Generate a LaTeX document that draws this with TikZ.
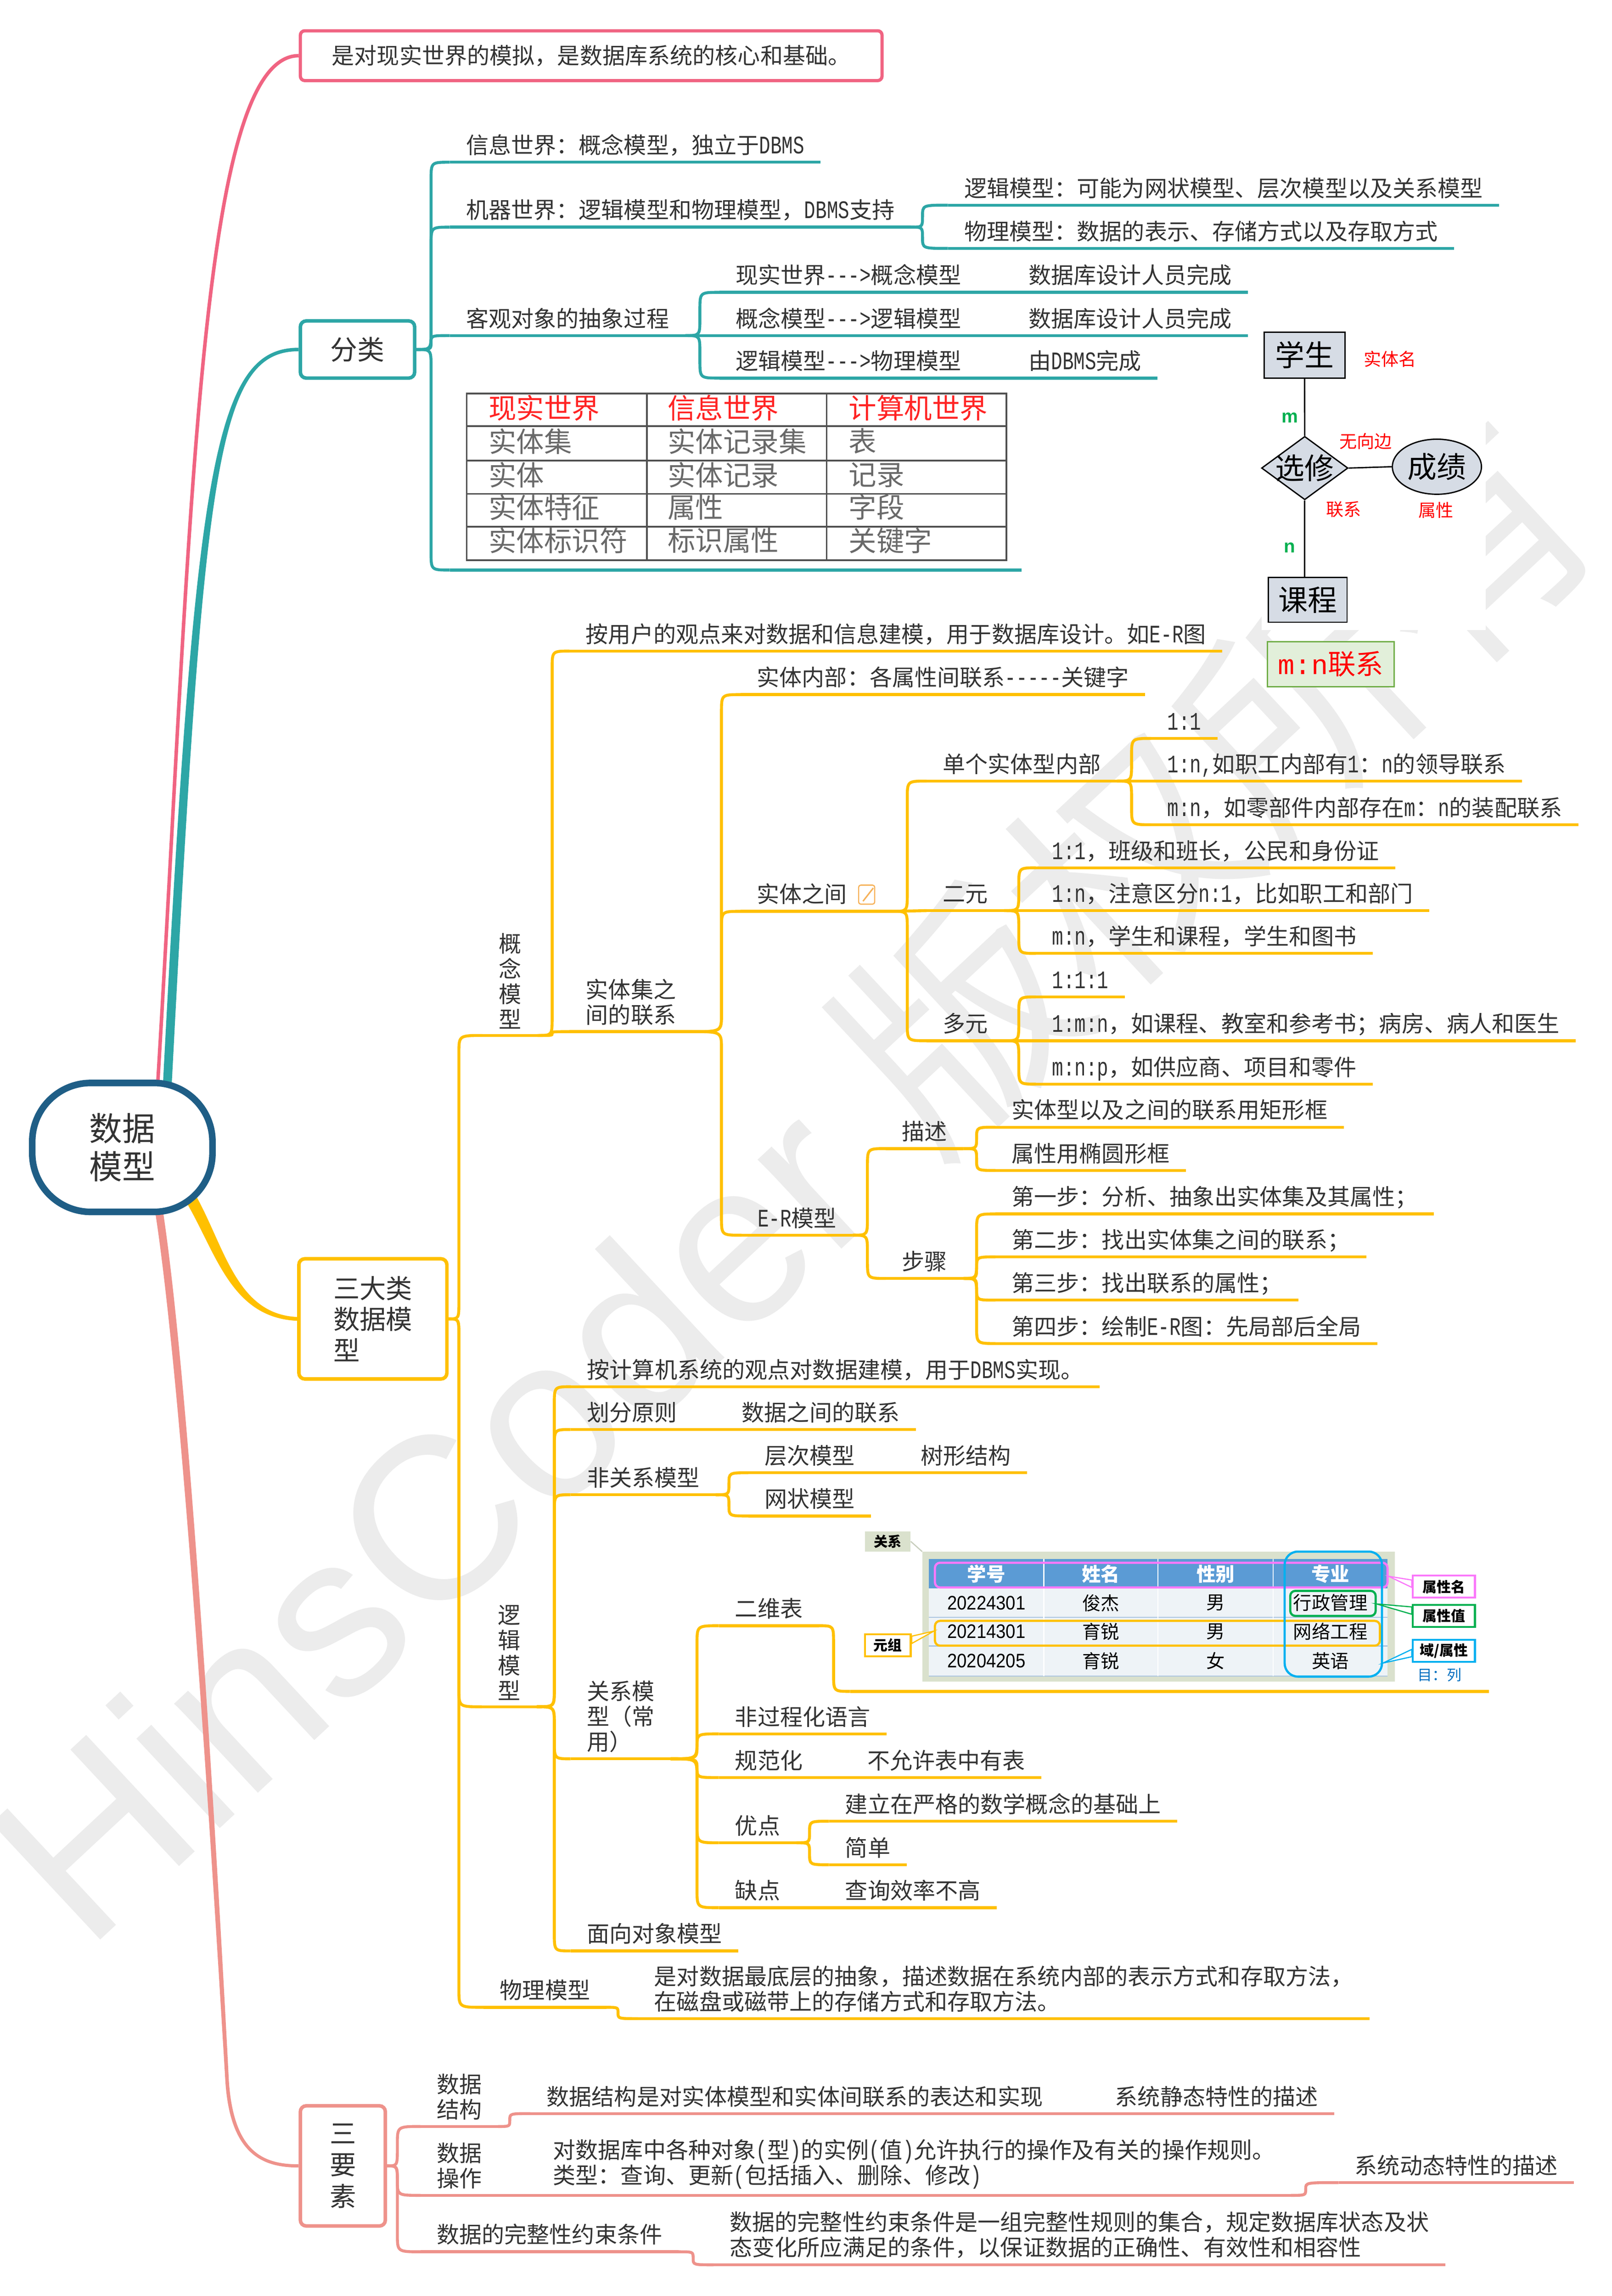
\documentclass[tikz,border=0pt]{standalone}
\usepackage{fontspec}
\setmainfont{Noto Sans CJK SC}
\newfontfamily\hwf[Scale=1.12,FakeStretch=0.744]{Liberation Mono}
\newfontfamily\latf{Liberation Sans}
\newfontfamily\numf[FakeStretch=0.9]{Liberation Sans}
\newfontfamily\monof{Liberation Mono}
\usetikzlibrary{calc,shapes.geometric}
\pgfdeclarelayer{wmk}
\pgfdeclarelayer{bg}
\pgfsetlayers{wmk,bg,main}
\newcommand\hw[1]{{\hwf #1}}
\newcommand\tfs{\fontsize{43.8}{49.2}\selectfont}
\newcommand\arrw{\hw{-\kern0pt-\kern0pt-\kern0pt>}}
\definecolor{pk}{RGB}{240,100,130}
\definecolor{tl}{RGB}{45,166,166}
\definecolor{yl}{RGB}{255,192,0}
\definecolor{sm}{RGB}{238,146,139}
\definecolor{rt}{RGB}{31,94,134}
\definecolor{tx}{RGB}{51,51,51}
\definecolor{erf}{RGB}{214,220,229}
\definecolor{gf}{RGB}{226,239,218}
\definecolor{gb}{RGB}{112,173,71}
\definecolor{sg}{RGB}{218,225,205}
\definecolor{hdc}{RGB}{91,155,213}
\definecolor{rfc}{RGB}{238,243,247}
\definecolor{rlc}{RGB}{170,196,224}
\definecolor{mgc}{RGB}{250,120,250}
\definecolor{gnc}{RGB}{0,176,80}
\definecolor{cyc}{RGB}{0,176,240}
\definecolor{blc}{RGB}{0,112,192}
\definecolor{wmc}{RGB}{236,236,236}
\definecolor{tgc}{RGB}{105,105,105}
\definecolor{trc}{RGB}{255,35,35}
\definecolor{glc}{RGB}{80,80,80}
\definecolor{icc}{RGB}{246,178,90}
\tikzset{
  tp/.style={font=\tfs, text=tx, anchor=south west, inner xsep=11mm, xshift=-11mm, align=left},
  br/.style={draw=#1, line width=2mm},
  elb/.style={to path={let \p1=(\tikztostart),\p2=(\tikztotarget) in
    .. controls ({\x1+#1},\y1) .. ({\x1+#1},{\y1+ifthenelse(\y2>\y1,1,-1)*min(12mm,abs(\y2-\y1)/2)})
    -- ({\x1+#1},{\y2-ifthenelse(\y2>\y1,1,-1)*min(12mm,abs(\y2-\y1)/2)})
    .. controls ({\x1+#1},\y2) .. (\p2)}},
  elb/.default=9mm,
  lvl/.style={draw=#1, line width=2.4mm, rounded corners=4mm, fill=white, text=tx, inner sep=0},
  tc/.style={anchor=west, inner sep=0, font=\fontsize{54}{60}\selectfont, text=tgc},
  erbox/.style={draw=black, line width=0.9mm, fill=erf, inner sep=0, font=\fontsize{57}{60}\selectfont},
  ert/.style={inner sep=0, font=\fontsize{57}{60}\selectfont},
  redl/.style={inner sep=0, text=red, font=\fontsize{34}{36}\selectfont},
  grl/.style={inner sep=0, text=gnc, font=\latf\bfseries\fontsize{36}{38}\selectfont},
  hdt/.style={inner sep=0, text=white, font=\bfseries\fontsize{37}{40}\selectfont},
  dtc/.style={inner sep=0, text=black, font=\fontsize{36}{40}\selectfont},
  dtn/.style={inner sep=0, text=black, font=\numf\fontsize{38}{40}\selectfont},
  lab/.style={draw=#1, fill=white, line width=1.4mm, inner sep=0, minimum width=42.5mm, minimum height=15mm, font=\bfseries\fontsize{27.5}{30}\selectfont},
  hil/.style={draw=#1, line width=1.5mm, rounded corners=3.5mm, inner sep=0},
}
\newcommand\tpc[5][]{\node[tp,text depth=0pt,inner ysep=5.8mm,#1] (#2) at #4 {#5};\draw[br=#3] (#2.south west) -- (#2.south east);}
\newcommand\tpm[5][]{\node[tp,inner ysep=4.3mm,#1] (#2) at #4 {#5};\draw[br=#3] (#2.south west) -- (#2.south east);}
\begin{document}
\begin{tikzpicture}[x=1mm,y=-1mm]
\useasboundingbox (0,0) rectangle (1100,1566.8);
\begin{pgfonlayer}{wmk}
\node[rotate=43,inner sep=0,text=wmc,font=\fontsize{449.5}{450}\selectfont] (wmark) at (538.4,803.9) {{\latf HinsCoder\ }版权所有};
\end{pgfonlayer}

% ---------- root and level-1 ----------
\node[draw=rt,line width=4.5mm,fill=white,rounded corners=40mm,minimum width=123mm,minimum height=88mm,align=center,text=tx,inner sep=0,font=\fontsize{64}{74}\selectfont] (root) at (83.5,783) {数据\\模型};
\node[lvl=pk,line width=2.2mm,rounded corners=3mm,minimum width=397mm,minimum height=34mm,font=\tfs] (pb) at (403.5,38) {是对现实世界的模拟，是数据库系统的核心和基础。};
\node[lvl=tl,minimum width=78mm,minimum height=39mm,font=\fontsize{52.6}{60}\selectfont] (fl) at (244,238.5) {分类};
\node[lvl=yl,minimum width=101mm,minimum height=82mm,align=left,font=\fontsize{51.2}{60.3}\selectfont] (sd) at (254.5,900) {三大类\\数据模\\型};
\node[lvl=sm,minimum width=58mm,minimum height=82mm,align=center,font=\fontsize{51.2}{60.9}\selectfont] (sy) at (234,1478) {三\\要\\素};

% ---------- teal ----------
\tpc{tA}{tl}{(318,110.7)}{信息世界：概念模型，独立于\hw{DBMS}}
\tpc{tB}{tl}{(318,155)}{机器世界：逻辑模型和物理模型，\hw{DBMS}支持}
\tpc{tBa}{tl}{(658,140)}{逻辑模型：可能为网状模型、层次模型以及关系模型}
\tpc{tBb}{tl}{(658,169.5)}{物理模型：数据的表示、存储方式以及存取方式}
\tpc{tC}{tl}{(318,229)}{客观对象的抽象过程}
\tpc{tCa}{tl}{(502,199.5)}{现实世界\arrw 概念模型}
\tpc{tCb}{tl}{(502,229)}{概念模型\arrw 逻辑模型}
\tpc{tCc}{tl}{(502,258)}{逻辑模型\arrw 物理模型}
\tpc{tCa2}{tl}{(702,199.5)}{数据库设计人员完成}
\tpc{tCb2}{tl}{(702,229)}{数据库设计人员完成}
\tpc{tCc2}{tl}{(702,258)}{由\hw{DBMS}完成}
\node[minimum width=390mm,minimum height=125mm,anchor=south west,inner sep=0] (tbl) at (307,389) {};
\draw[br=tl] (tbl.south west) -- (tbl.south east);
\begin{scope}[line width=1.2mm, draw=glc]
\draw (318.5,268.6) rectangle (686.8,382.2);
\foreach \yy in {290.9,314.2,337,359.3} \draw (318.5,\yy) -- (686.8,\yy);
\foreach \xx in {441.4,564.2} \draw (\xx,268.6) -- (\xx,382.2);
\end{scope}
\node[tc,text=trc] (c11) at (333.4,278.4) {现实世界};
\node[tc,text=trc] (c12) at (455.6,278.4) {信息世界};
\node[tc,text=trc] (c13) at (579.2,278.4) {计算机世界};
\node[tc] (c21) at (333.4,301.1) {实体集};
\node[tc] (c22) at (455.6,301.1) {实体记录集};
\node[tc] (c23) at (579.2,301.1) {表};
\node[tc] (c31) at (333.4,324) {实体};
\node[tc] (c32) at (455.6,324) {实体记录};
\node[tc] (c33) at (579.2,324) {记录};
\node[tc] (c41) at (333.4,346.2) {实体特征};
\node[tc] (c42) at (455.6,346.2) {属性};
\node[tc] (c43) at (579.2,346.2) {字段};
\node[tc] (c51) at (333.4,368.8) {实体标识符};
\node[tc] (c52) at (455.6,368.8) {标识属性};
\node[tc] (c53) at (579.2,368.8) {关键字};

% ---------- ER diagram ----------
\node[erbox,minimum width=55.2mm,minimum height=31.4mm] (xs) at (890.4,242.3) {学生};
\node[diamond,draw=black,line width=0.9mm,fill=erf,minimum width=59mm,minimum height=43.3mm,inner sep=0] (xx) at (890.5,319.4) {};
\node[ert] (xxt) at (xx.center) {选修};
\node[ellipse,draw=black,line width=0.9mm,fill=erf,minimum width=60.8mm,minimum height=37.6mm,inner sep=0] (cj) at (980.7,318.5) {};
\node[ert] (cjt) at (cj.center) {成绩};
\node[erbox,minimum width=53.7mm,minimum height=30.6mm] (kc) at (892.55,409.3) {课程};
\node[redl] (l1) at (948.7,245) {实体名};
\node[redl] (l2) at (932,301) {无向边};
\node[redl] (l3) at (917,347.5) {联系};
\node[redl] (l4) at (980,348) {属性};
\node[grl] (gm) at (880.5,285) {m};
\node[grl] (gnn) at (880.3,373.8) {n};
\node[draw=gb,fill=gf,line width=0.9mm,minimum width=86.5mm,minimum height=30.8mm,inner sep=0,text=red,font=\fontsize{54}{58}\selectfont] (mn) at (908.25,453.2) {{\monof m:n}联系};

% ---------- yellow: 概念模型 ----------
\tpm[align=center]{gnm}{yl}{(340.3,706.6)}{概\\念\\模\\型}
\tpc{yA}{yl}{(399.7,444.3)}{按用户的观点来对数据和信息建模，用于数据库设计。如\hw{E-R}图}
\tpm{yB}{yl}{(399.7,704)}{实体集之\\间的联系}
\tpc{yB1}{yl}{(516.5,474)}{实体内部：各属性间联系\hw{-\kern0pt-\kern0pt-\kern0pt-\kern0pt-}关键字}
\tpc{yB2}{yl}{(516.5,621.9)}{实体之间\kern20mm}
\draw[icc,line width=0.8mm,rounded corners=1.5mm,fill=white] (586,604) rectangle (597,617);
\draw[icc,line width=1mm] (589,615) -- (596,606);
\tpc{dg}{yl}{(643.4,533)}{单个实体型内部}
\tpc{dg1}{yl}{(796.7,503.9)}{\hw{1:1}}
\tpc{dg2}{yl}{(796.7,533)}{\hw{1:n,}如职工内部有\hw{1}：\hw{n}的领导联系}
\tpc{dg3}{yl}{(796.7,562.8)}{\hw{m:n}，如零部件内部存在\hw{m}：\hw{n}的装配联系}
\tpc{ey}{yl}{(643.4,621.4)}{二元}
\tpc{ey1}{yl}{(718,592.2)}{\hw{1:1}，班级和班长，公民和身份证}
\tpc{ey2}{yl}{(718,621.4)}{\hw{1:n}，注意区分\hw{n:1}，比如职工和部门}
\tpc{ey3}{yl}{(718,650.6)}{\hw{m:n}，学生和课程，学生和图书}
\tpc{dy}{yl}{(643.4,710.2)}{多元}
\tpc{dy1}{yl}{(718,680.3)}{\hw{1:1:1}}
\tpc{dy2}{yl}{(718,710.2)}{\hw{1:m:n}，如课程、教室和参考书；病房、病人和医生}
\tpc{dy3}{yl}{(718,739.8)}{\hw{m:n:p}，如供应商、项目和零件}
\tpc{erm}{yl}{(517,842.9)}{\hw{E-R}模型}
\tpc{ms}{yl}{(615.6,783.8)}{描述}
\tpc{ms1}{yl}{(690.4,769.2)}{实体型以及之间的联系用矩形框}
\tpc{ms2}{yl}{(690.4,798.7)}{属性用椭圆形框}
\tpc{bz}{yl}{(615.6,872.4)}{步骤}
\tpc{bz1}{yl}{(690.4,828.4)}{第一步：分析、抽象出实体集及其属性；}
\tpc{bz2}{yl}{(690.4,857.7)}{第二步：找出实体集之间的联系；}
\tpc{bz3}{yl}{(690.4,887.2)}{第三步：找出联系的属性；}
\tpc{bz4}{yl}{(690.4,916.8)}{第四步：绘制\hw{E-R}图：先局部后全局}

% ---------- yellow: 逻辑模型 ----------
\tpm[align=center]{lj}{yl}{(339.8,1164.7)}{逻\\辑\\模\\型}
\tpc{lA}{yl}{(400.6,946.3)}{按计算机系统的观点对数据建模，用于\hw{DBMS}实现。}
\tpc{lB}{yl}{(400.4,975.5)}{划分原则}
\tpc{lB2}{yl}{(506.2,975.5)}{数据之间的联系}
\tpc{lC}{yl}{(400.4,1020)}{非关系模型}
\tpc{lC1}{yl}{(521.7,1005)}{层次模型}
\tpc{lC1b}{yl}{(628.3,1005)}{树形结构}
\tpc{lC2}{yl}{(521.7,1034.5)}{网状模型}
\tpm{lD}{yl}{(400.4,1200.2)}{关系模\\型（常\\用）}
\tpc{lD1}{yl}{(501.6,1109.4)}{二维表}
\tpc{lD2}{yl}{(501.6,1183.2)}{非过程化语言}
\tpc{lD3}{yl}{(501.6,1213)}{规范化}
\tpc{lD3b}{yl}{(591.9,1213)}{不允许表中有表}
\tpc{lD4}{yl}{(501.6,1257.5)}{优点}
\tpc{lD4a}{yl}{(576.8,1242.8)}{建立在严格的数学概念的基础上}
\tpc{lD4b}{yl}{(576.8,1272.5)}{简单}
\tpc{lD5}{yl}{(501.6,1301.8)}{缺点}
\tpc{lD5b}{yl}{(576.8,1301.8)}{查询效率不高}
\tpc{lE}{yl}{(400.4,1331.3)}{面向对象模型}
\tpc{wl}{yl}{(341.1,1369.8)}{物理模型}
\tpm{wl1}{yl}{(446.4,1377.5)}{是对数据最底层的抽象，描述数据在系统内部的表示方式和存取方法，\\在磁盘或磁带上的存储方式和存取方法。}

% relation table image
\node[minimum width=435.8mm,minimum height=114mm,anchor=south west,inner sep=0] (rel) at (580.2,1154.2) {};
\draw[br=yl] (rel.south west) -- (rel.south east);
\node[fill=sg,minimum width=31.1mm,minimum height=13.9mm,inner sep=0,font=\bfseries\fontsize{27}{30}\selectfont] (gx) at (605.95,1051.85) {关系};
\node[fill=sg,minimum width=322.6mm,minimum height=88.7mm,inner sep=0,anchor=north west] (pnl) at (629.4,1058.8) {};
\draw[sg!80!gray,line width=0.8mm] (gx.east) -- (pnl.north west);
\fill[rfc] (634,1063.9) rectangle (947,1143.7);
\fill[hdc] (634,1063.9) rectangle (947,1084);
\foreach \yy in {1103.6,1123.2,1143.7} \draw[rlc,line width=0.8mm] (634,\yy) -- (947,\yy);
\foreach \xx in {712.4,790.4,869} \draw[white,line width=0.7mm] (\xx,1063.9) -- (\xx,1143.7);
\node[hdt] (h1) at (673.2,1074) {学号};
\node[hdt] (h2) at (751.4,1074) {姓名};
\node[hdt] (h3) at (829.7,1074) {性别};
\node[hdt] (h4) at (908,1074) {专业};
\node[dtn] (d11) at (673.2,1093.8) {20224301};
\node[dtc] (d12) at (751.4,1093.8) {俊杰};
\node[dtc] (d13) at (829.7,1093.8) {男};
\node[dtc] (d14) at (908,1093.8) {行政管理};
\node[dtn] (d21) at (673.2,1113.4) {20214301};
\node[dtc] (d22) at (751.4,1113.4) {育锐};
\node[dtc] (d23) at (829.7,1113.4) {男};
\node[dtc] (d24) at (908,1113.4) {网络工程};
\node[dtn] (d31) at (673.2,1133.5) {20204205};
\node[dtc] (d32) at (751.4,1133.5) {育锐};
\node[dtc] (d33) at (829.7,1133.5) {女};
\node[dtc] (d34) at (908,1133.5) {英语};
\node[hil=mgc,minimum width=308.9mm,minimum height=16.9mm] (hpk) at (792.55,1074.85) {};
\node[hil=gnc,minimum width=58.3mm,minimum height=17.1mm] (hgn) at (909.75,1094.15) {};
\node[hil=yl,minimum width=303.7mm,minimum height=16.9mm] (hor) at (789.95,1114.55) {};
\node[hil=cyc,rounded corners=9mm,minimum width=66.4mm,minimum height=85.3mm] (hcy) at (910,1101.45) {};
\node[lab=mgc] (lpk) at (985.45,1082.7) {属性名};
\node[lab=gnc] (lgn) at (985.45,1102.75) {属性值};
\node[lab=cyc] (lcy) at (985.45,1126.55) {域/属性};
\node[lab=yl,minimum width=31.1mm,minimum height=14.9mm] (lor) at (605.95,1122.75) {元组};
\filldraw[draw=mgc,fill=white,line width=0.8mm] ($(hpk.east)+(0,0.8)$) -- ($(lpk.west)+(0,-4.5)$) -- ($(lpk.west)+(0,0.5)$) -- cycle;
\filldraw[draw=gnc,fill=white,line width=0.8mm] ($(hgn.east)+(0,0.4)$) -- ($(lgn.west)+(0,-6.2)$) -- ($(lgn.west)+(0,-1.2)$) -- cycle;
\filldraw[draw=cyc,fill=white,line width=0.8mm] ($(hcy.south east)+(0,-10)$) -- ($(lcy.west)+(0,-1)$) -- ($(lcy.west)+(0,4)$) -- cycle;
\filldraw[draw=yl,fill=white,line width=0.8mm] ($(hor.west)+(0,-1.5)$) -- ($(lor.east)+(0,-6.2)$) -- ($(lor.east)+(0,-1.2)$) -- cycle;
\node[inner sep=0,text=blc,font=\fontsize{28.5}{30}\selectfont] (mlie) at (982.5,1142.9) {目：列};

% ---------- salmon ----------
\tpm{sA}{sm}{(298,1451.1)}{数据\\结构}
\tpc{sA1}{sm}{(373,1442.3)}{数据结构是对实体模型和实体间联系的表达和实现}
\tpc{sA2}{sm}{(761,1442.3)}{系统静态特性的描述}
\tpm{sB}{sm}{(298,1498.1)}{数据\\操作}
\tpm{sB1}{sm}{(377.4,1498.1)}{对数据库中各种对象\hw{(}型\hw{)}的实例\hw{(}值\hw{)}允许执行的操作及有关的操作规则。\\类型：查询、更新\hw{(}包括插入、删除、修改\hw{)}}
\tpc{sB2}{sm}{(924.6,1489.4)}{系统动态特性的描述}
\tpc{sC}{sm}{(298,1536.6)}{数据的完整性约束条件}
\tpm{sC1}{sm}{(498,1545.5)}{数据的完整性约束条件是一组完整性规则的集合，规定数据库状态及状\\态变化所应满足的条件，以保证数据的正确性、有效性和相容性}

% ---------- connectors ----------
\begin{pgfonlayer}{bg}
\fill[white] (861,226) rectangle (1014,430);
\draw[line width=0.9mm] (xs.south) -- (xx.north);
\draw[line width=0.9mm] (xx.east) -- (cj.west);
\draw[line width=0.9mm] (xx.south) -- (xx.south |- kc.north);
\draw[pk,line width=2.4mm] ($(root.center)+(24,-41)$) .. controls (131,350) and (136,38) .. (pb.west);
\fill[tl] ($(root.center)+(27.5,-39)$) .. controls (133,320) and (146,237.3) .. ($(fl.west)+(0,-1.2)$) -- ($(fl.west)+(0,1.2)$) .. controls (148,239.7) and (139,320) .. ($(root.center)+(33.5,-39)$) -- cycle;
\fill[yl] ($(root.center)+(47.9,28.9)$) .. controls (153,848) and (160,896.8) .. ($(sd.west)+(0,-1.3)$) -- ($(sd.west)+(0,1.3)$) .. controls (156,899.2) and (147,852) .. ($(root.center)+(41.1,33.1)$) -- cycle;
\fill[sm] ($(root.center)+(21.8,40)$) .. controls (125.5,950) and (146.5,1300) .. (153.8,1420) .. controls (157,1471) and (180,1479.1) .. ($(sy.west)+(0,1.1)$) -- ($(sy.west)+(0,-1.1)$) .. controls (180,1476.9) and (159.5,1469) .. (156.2,1420) .. controls (150,1300) and (130.5,950) .. ($(root.center)+(27.2,40)$) -- cycle;
% teal
\draw[br=tl] (fl.east) to[elb=10mm] (tA.south west);
\draw[br=tl] (fl.east) to[elb=10mm] (tB.south west);
\draw[br=tl] (fl.east) to[elb=10mm] (tC.south west);
\draw[br=tl] (fl.east) to[elb=10mm] (tbl.south west);
\draw[br=tl] (tB.south east) to[elb=8mm] (tBa.south west);
\draw[br=tl] (tB.south east) to[elb=8mm] (tBb.south west);
\draw[br=tl] (tC.south east) to[elb=10mm] (tCa.south west);
\draw[br=tl] (tC.south east) -- (tCb.south west);
\draw[br=tl] (tC.south east) to[elb=10mm] (tCc.south west);
\draw[br=tl] (tCa.south east) -- (tCa2.south west);
\draw[br=tl] (tCb.south east) -- (tCb2.south west);
\draw[br=tl] (tCc.south east) -- (tCc2.south west);
% yellow
\draw[br=yl] (sd.east) to[elb=7mm] (gnm.south west);
\draw[br=yl] (sd.east) to[elb=7mm] (lj.south west);
\draw[br=yl] (sd.east) to[elb=7mm] (wl.south west);
\draw[br=yl] (gnm.south east) to[elb=10mm] (yA.south west);
\draw[br=yl] (gnm.south east) to[elb=10mm] (yB.south west);
\draw[br=yl] (yB.south east) to[elb=20mm] (yB1.south west);
\draw[br=yl] (yB.south east) to[elb=20mm] (yB2.south west);
\draw[br=yl] (yB.south east) to[elb=20mm] (erm.south west);
\draw[br=yl] (yB2.south east) to[elb=10mm] (dg.south west);
\draw[br=yl] (yB2.south east) -- (ey.south west);
\draw[br=yl] (yB2.south east) to[elb=10mm] (dy.south west);
\draw[br=yl] (dg.south east) to[elb=10mm] (dg1.south west);
\draw[br=yl] (dg.south east) -- (dg2.south west);
\draw[br=yl] (dg.south east) to[elb=10mm] (dg3.south west);
\draw[br=yl] (ey.south east) to[elb=10mm] (ey1.south west);
\draw[br=yl] (ey.south east) -- (ey2.south west);
\draw[br=yl] (ey.south east) to[elb=10mm] (ey3.south west);
\draw[br=yl] (dy.south east) to[elb=10mm] (dy1.south west);
\draw[br=yl] (dy.south east) -- (dy2.south west);
\draw[br=yl] (dy.south east) to[elb=10mm] (dy3.south west);
\draw[br=yl] (erm.south east) to[elb=10mm] (ms.south west);
\draw[br=yl] (erm.south east) to[elb=10mm] (bz.south west);
\draw[br=yl] (ms.south east) to[elb=9mm] (ms1.south west);
\draw[br=yl] (ms.south east) to[elb=9mm] (ms2.south west);
\draw[br=yl] (bz.south east) to[elb=9mm] (bz1.south west);
\draw[br=yl] (bz.south east) to[elb=9mm] (bz2.south west);
\draw[br=yl] (bz.south east) to[elb=9mm] (bz3.south west);
\draw[br=yl] (bz.south east) to[elb=9mm] (bz4.south west);
\draw[br=yl] (lj.south east) to[elb=12mm] (lA.south west);
\draw[br=yl] (lj.south east) to[elb=12mm] (lB.south west);
\draw[br=yl] (lj.south east) to[elb=12mm] (lC.south west);
\draw[br=yl] (lj.south east) to[elb=12mm] (lD.south west);
\draw[br=yl] (lj.south east) to[elb=12mm] (lE.south west);
\draw[br=yl] (lB.south east) -- (lB2.south west);
\draw[br=yl] (lC.south east) to[elb=9mm] (lC1.south west);
\draw[br=yl] (lC.south east) to[elb=9mm] (lC2.south west);
\draw[br=yl] (lC1.south east) -- (lC1b.south west);
\draw[br=yl] (lD.south east) to[elb=18mm] (lD1.south west);
\draw[br=yl] (lD.south east) to[elb=18mm] (lD2.south west);
\draw[br=yl] (lD.south east) to[elb=18mm] (lD3.south west);
\draw[br=yl] (lD.south east) to[elb=18mm] (lD4.south west);
\draw[br=yl] (lD.south east) to[elb=18mm] (lD5.south west);
\draw[br=yl] (lD1.south east) to[elb=10mm] (rel.south west);
\draw[br=yl] (lD3.south east) -- (lD3b.south west);
\draw[br=yl] (lD4.south east) to[elb=9mm] (lD4a.south west);
\draw[br=yl] (lD4.south east) to[elb=9mm] (lD4b.south west);
\draw[br=yl] (lD5.south east) -- (lD5b.south west);
\draw[br=yl] (wl.south east) to[elb=8mm] (wl1.south west);
% salmon
\draw[br=sm] (sy.east) to[elb=7mm] (sA.south west);
\draw[br=sm] (sy.east) to[elb=7mm] (sB.south west);
\draw[br=sm] (sy.east) to[elb=7mm] (sC.south west);
\draw[br=sm] (sA.south east) to[elb=8mm] (sA1.south west);
\draw[br=sm] (sA1.south east) -- (sA2.south west);
\draw[br=sm] (sB.south east) -- (sB1.south west);
\draw[br=sm] (sB1.south east) to[elb=10mm] (sB2.south west);
\draw[br=sm] (sC.south east) to[elb=10mm] (sC1.south west);
\end{pgfonlayer}
\end{tikzpicture}
\end{document}
